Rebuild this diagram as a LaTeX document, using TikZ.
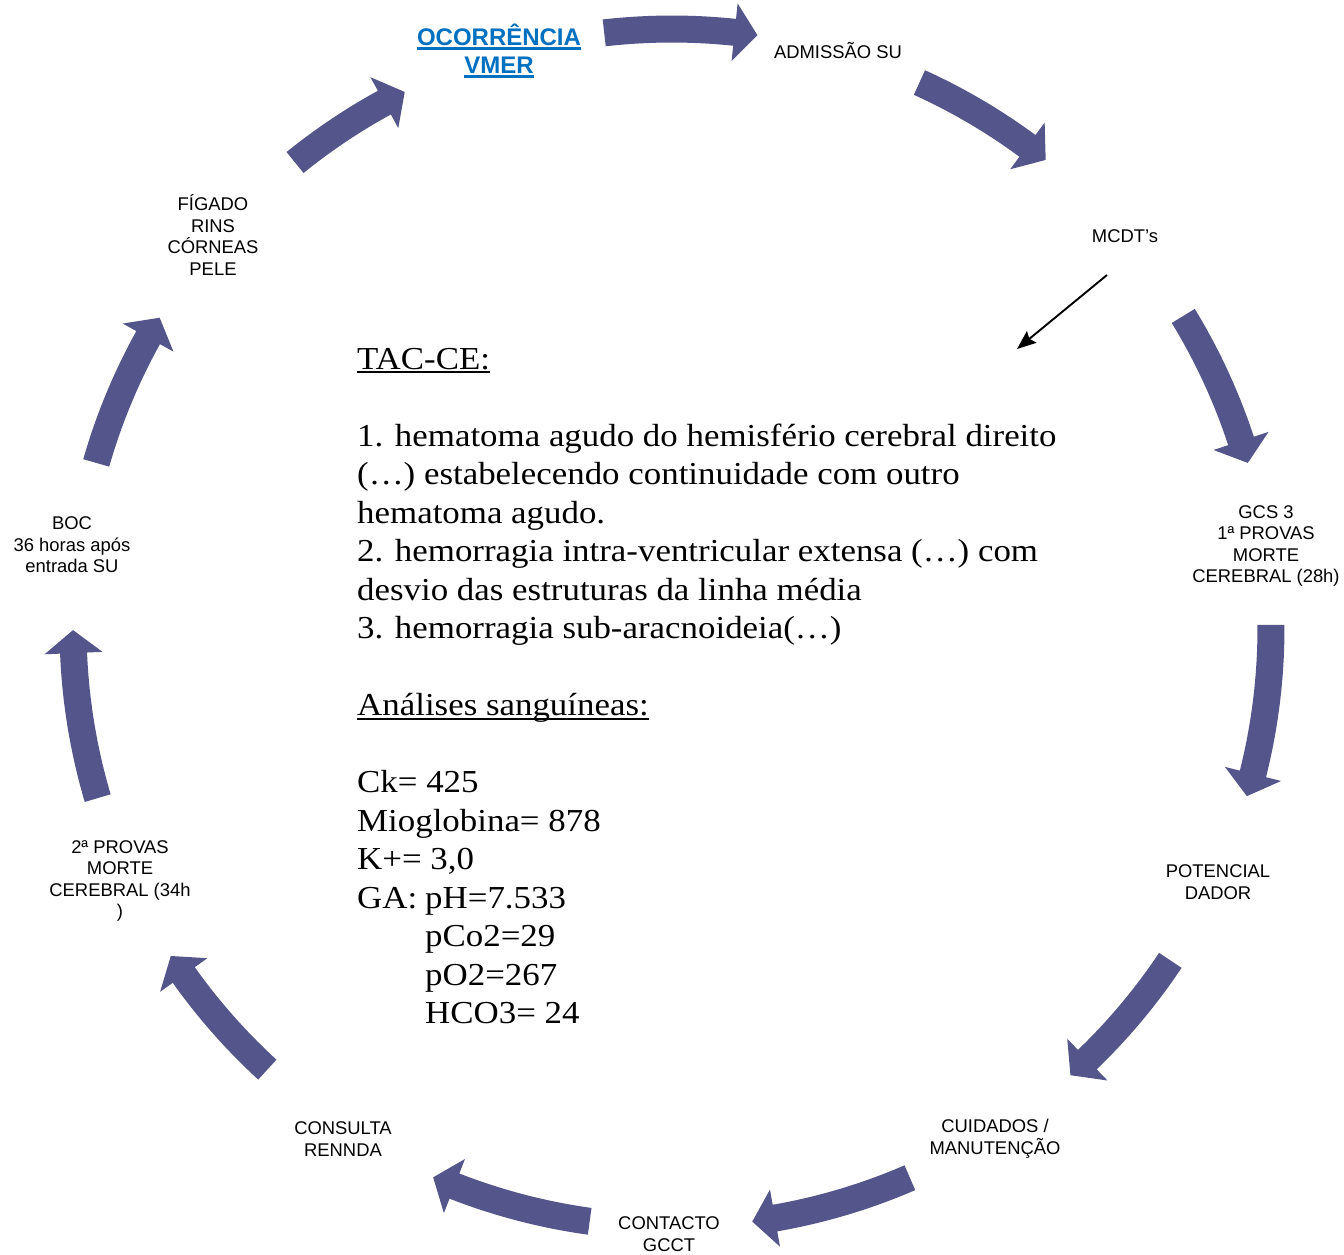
\documentclass[tikz,border=0pt]{standalone}
\usepackage{fontspec}
\setmainfont{Liberation Serif}
\newfontfamily\lsans{Liberation Sans}
\newfontfamily\bodyserif[FakeStretch=1.09]{Liberation Serif}
\usetikzlibrary{arrows.meta}
\definecolor{cycblue}{RGB}{84,85,138}
\definecolor{titleblue}{RGB}{0,112,192}
\newcommand\myul[3]{\setbox0\hbox{#3}\rlap{\rule[-#1]{\wd0}{#2}}\box0}
\begin{document}
\begin{tikzpicture}[x=1pt,y=-1pt,
  lab/.style={font={\lsans\fontsize{18.4}{21.6}\selectfont}, align=center, inner sep=0pt},
  ttl/.style={font={\lsans\bfseries\fontsize{24}{28}\selectfont}, text=titleblue, align=center, inner sep=0pt},
  body/.style={font={\bodyserif\fontsize{32}{38.5}\selectfont}, anchor=base west, inner sep=0pt},
  cyc/.style={fill=cycblue},
  ptr/.style={line width=1.9pt, -{Stealth[length=19pt,width=15pt,inset=3pt]}}]
\useasboundingbox (0,0) rectangle (1344,1254);
\fill[white] (0,0) rectangle (1344,1254);
% cycle arrows
\begin{scope}[shift={(672,628)}]
\foreach \a/\c in {263.5/278.2,294.4/308.6,328.6/344,359.7/376.3,393.7/408.3,426.6/442.3,457.9/473.5,492.5/506.8,523.5/539.8,556/571.2,591/603.5}{
  \pgfmathsetmacro\b{\c-2.2}
  \fill[cyc] plot[domain=\a:\b,samples=24] (\x:612.5) -- (\b:628) -- (\c:599) -- (\b:570)
     -- plot[domain=\b:\a,samples=24] (\x:585.5) -- cycle;
}
\end{scope}
% labels
\node[ttl] (occ) at (499,51) {\myul{4pt}{2.4pt}{OCORRÊNCIA}\\\myul{4pt}{2.4pt}{VMER}};
\node[lab] (adm) at (838,51) {ADMISSÃO SU};
\node[lab] (mcdt) at (1125,236) {MCDT’s};
\node[lab] (gcs) at (1266,546) {GCS 3\\1ª PROVAS\\MORTE\\CEREBRAL (28h)};
\node[lab] (pot) at (1218,882) {POTENCIAL\\DADOR};
\node[lab] (cui) at (995,1139) {CUIDADOS /\\MANUTENÇÃO};
\node[lab] (con) at (669,1234) {CONTACTO\\GCCT};
\node[lab] (ren) at (343,1139) {CONSULTA\\RENNDA};
\node[lab] (pm2) at (120,881) {2ª PROVAS\\MORTE\\CEREBRAL (34h\\)};
\node[lab] (boc) at (72,545) {BOC\\36 horas após\\entrada SU};
\node[lab] (org) at (213,235) {FÍGADO\\RINS\\CÓRNEAS\\PELE};
% MCDT pointer
\coordinate (m1) at (1107,275);
\coordinate (m2) at (1017,349);
\draw[ptr] (m1) -- (m2);
% body text
\node[body] (b1) at (357,369) {\myul{4pt}{1.6pt}{TAC-CE:}};
\node[body] (b2) at (357,446) {1. hematoma agudo do hemisfério cerebral direito};
\node[body] (b3) at (357,484.5) {(…) estabelecendo continuidade com outro};
\node[body] (b4) at (357,523) {hematoma agudo.};
\node[body] (b5) at (357,561.5) {2. hemorragia intra-ventricular extensa (…) com};
\node[body] (b6) at (357,600) {desvio das estruturas da linha média};
\node[body] (b7) at (357,638.5) {3. hemorragia sub-aracnoideia(…)};
\node[body] (b8) at (357,715.5) {\myul{4pt}{1.6pt}{Análises sanguíneas:}};
\node[body] (b9) at (357,792.5) {Ck= 425};
\node[body] (b10) at (357,831) {Mioglobina= 878};
\node[body] (b11) at (357,869.5) {K+= 3,0};
\node[body] (b12) at (357,908) {GA:};
\node[body] (b13) at (425,908) {pH=7.533};
\node[body] (b14) at (425,946.5) {pCo2=29};
\node[body] (b15) at (425,985) {pO2=267};
\node[body] (b16) at (425,1023.5) {HCO3= 24};
\end{tikzpicture}
\end{document}
